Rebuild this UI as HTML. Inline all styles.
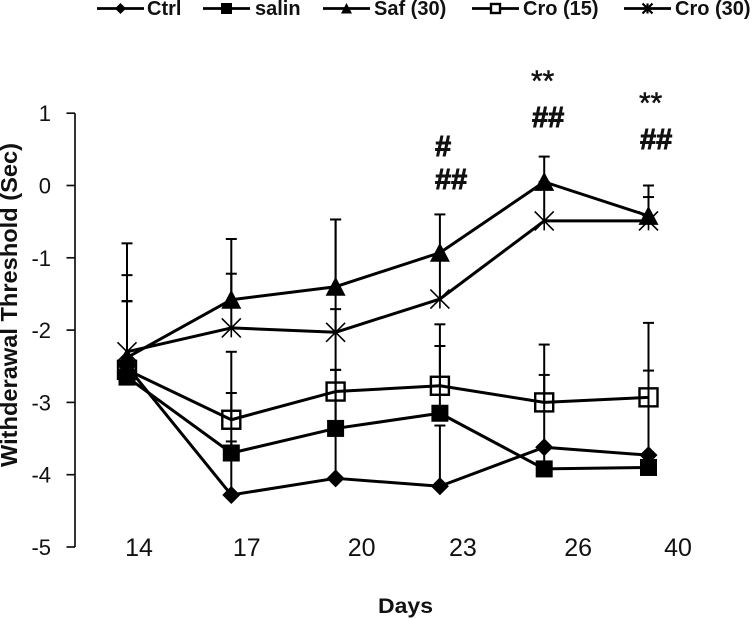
<!DOCTYPE html>
<html>
<head>
<meta charset="utf-8">
<style>
html,body{margin:0;padding:0;background:#fff;width:754px;height:619px;overflow:hidden}
svg{display:block}
text{font-family:"Liberation Sans",sans-serif;fill:#111}
</style>
</head>
<body>
<svg id="chart" width="754" height="619" viewBox="0 0 754 619" xmlns="http://www.w3.org/2000/svg">
  <text transform="translate(17,467) rotate(-90)" font-size="23" font-weight="bold" textLength="324" lengthAdjust="spacingAndGlyphs">Withderawal Threshold (Sec)</text>
  <text x="378" y="613" font-size="21" font-weight="bold" textLength="55" lengthAdjust="spacingAndGlyphs">Days</text>
  <g font-size="30">
    <text x="435" y="156" font-weight="bold" font-size="29" stroke="#111" stroke-width="0.9">#</text>
    <text x="435" y="189" font-weight="bold" font-size="29" stroke="#111" stroke-width="0.9">##</text>
    <text x="531" y="91" stroke="#111" stroke-width="0.5">**</text>
    <text x="532" y="127" font-weight="bold" font-size="29" stroke="#111" stroke-width="0.9">##</text>
    <text x="639" y="113" stroke="#111" stroke-width="0.5">**</text>
    <text x="640" y="149" font-weight="bold" font-size="29" stroke="#111" stroke-width="0.9">##</text>
  </g>
</svg>
<script>
const categories = ['14', '17', '20', '23', '26', '40'];
const yTicks = [1, 0, -1, -2, -3, -4, -5];
const seriesNames = ['Ctrl', 'salin', 'Saf (30)', 'Cro (15)', 'Cro (30)'];

const ctrlValues = [-2.5, -4.28, -4.05, -4.16, -3.62, -3.73];
const salinValues = [-2.65, -3.7, -3.36, -3.15, -3.92, -3.9];
const saf30Values = [-2.38, -1.58, -1.4, -0.93, 0.05, -0.42];
const cro15Values = [-2.55, -3.24, -2.85, -2.77, -3.0, -2.93];
const cro30Values = [-2.3, -1.97, -2.03, -1.57, -0.49, -0.49];

const ctrlErrors = [0.9, 0.74, 1.5, 0.84, 1.0, 1.17];
const salinErrors = [1.05, 0.83, 0.81, 0.93, 0.3, 0.17];
const saf30Errors = [1.58, 0.84, 0.93, 0.53, 0.35, 0.42];
const cro15Errors = [0.95, 0.94, 1.14, 0.85, 0.8, 1.03];
const cro30Errors = [1.06, 0.75, 1.56, 0.62, 0.54, 0.33];

const NS = 'http://www.w3.org/2000/svg';
const svg = document.getElementById('chart');

function xScale(i) { return 127 + i * 104.3; }
function yScale(v) { return 185.5 - v * 72.3; }
/* layout only: the reference prints its day labels off-centre from the points */
const tickLabelShift = [12, 15.5, 26, 23, 34, 29.5];

function mk(tag, attrs, parent) {
  const el = document.createElementNS(NS, tag);
  for (const k in attrs) el.setAttribute(k, attrs[k]);
  (parent || svg).appendChild(el);
  return el;
}

function drawMarker(kind, cx, cy, s, parent, legend) {
  const g = mk('g', {}, parent);
  if (kind === 'diamond') {
    mk('polygon', { points: `${cx},${cy - s} ${cx + s},${cy} ${cx},${cy + s} ${cx - s},${cy}`, fill: '#000' }, g);
  } else if (kind === 'square') {
    mk('rect', { x: cx - s, y: cy - s, width: 2 * s, height: 2 * s, fill: '#000' }, g);
  } else if (kind === 'triangle') {
    mk('polygon', { points: `${cx},${cy - s} ${cx + s},${cy + s * 0.9} ${cx - s},${cy + s * 0.9}`, fill: '#000' }, g);
  } else if (kind === 'open-square') {
    mk('rect', { x: cx - s + 1, y: cy - s + 1, width: 2 * s - 2, height: 2 * s - 2, fill: 'none', stroke: '#000', 'stroke-width': 2.4 }, g);
  } else {
    const w = legend ? 2.2 : 1.6;
    mk('path', { d: `M${cx - s},${cy - s}L${cx + s},${cy + s}M${cx - s},${cy + s}L${cx + s},${cy - s}M${cx},${cy - s}L${cx},${cy + s}`, stroke: '#000', 'stroke-width': w, fill: 'none' }, g);
  }
  return g;
}

const axisGroup = mk('g', { stroke: '#111', 'stroke-width': 1.7 });


mk('line', { x1: 75, x2: 75, y1: yScale(1), y2: yScale(-5) }, axisGroup);
yTicks.forEach(function (t) {
  const tick = mk('line', { x1: 66.5, x2: 75, y1: yScale(t), y2: yScale(t) }, axisGroup);
  
  
  const label = mk('text', { x: 51, y: yScale(t) + 8, 'text-anchor': 'end', 'font-size': 22 });
  label.textContent = String(t);
  
  
});

categories.forEach(function (c, i) {
  const label = mk('text', { x: xScale(i) + tickLabelShift[i], y: 556, 'text-anchor': 'middle', 'font-size': 25 });
  label.textContent = c;
  
  
});

const series = [
  { key: 'ctrl', values: ctrlValues, errors: ctrlErrors, kind: 'diamond', size: 9 },
  { key: 'salin', values: salinValues, errors: salinErrors, kind: 'square', size: 8.5 },
  { key: 'saf-30', values: saf30Values, errors: saf30Errors, kind: 'triangle', size: 10 },
  { key: 'cro-15', values: cro15Values, errors: cro15Errors, kind: 'open-square', size: 10 },
  { key: 'cro-30', values: cro30Values, errors: cro30Errors, kind: 'star', size: 9.5 }
];

series.forEach(function (s) {
  const errGroup = mk('g', { stroke: '#000', 'stroke-width': 2 });
  
  
  s.values.forEach(function (v, i) {
    const x = xScale(i);
    const top = yScale(v + s.errors[i]);
    mk('line', { x1: x, x2: x, y1: yScale(v), y2: top }, errGroup);
    mk('line', { x1: x - 5.5, x2: x + 5.5, y1: top, y2: top }, errGroup);
  });
});

series.forEach(function (s) {
  const pts = s.values.map(function (v, i) { return xScale(i) + ',' + yScale(v); }).join(' ');
  const line = mk('polyline', { points: pts, fill: 'none', stroke: '#000', 'stroke-width': 3, 'stroke-linejoin': 'round' });
  
  
});

series.forEach(function (s) {
  s.values.forEach(function (v, i) {
    const m = drawMarker(s.kind, xScale(i), yScale(v), s.size);
    
    
  });
});

const legendLineStarts = [97, 203, 323, 472, 624];
const legendTextStarts = [147, 255, 374, 523, 675];
const legendGroup = mk('g', {});


series.forEach(function (s, i) {
  const entry = mk('g', {}, legendGroup);
  
  
  const x0 = legendLineStarts[i];
  mk('line', { x1: x0, x2: x0 + 47, y1: 8.5, y2: 8.5, stroke: '#000', 'stroke-width': 2.8 }, entry);
  drawMarker(s.kind, x0 + 23.5, 8.5, s.kind === 'star' ? 5 : 5.5, entry, true);
  if (s.kind === 'open-square') {
    entry.lastChild.firstChild.setAttribute('fill', '#fff');
  }
  const label = mk('text', { x: legendTextStarts[i], y: 15, 'font-size': 20, 'font-weight': 'bold' }, entry);
  label.textContent = seriesNames[i];
});
</script>
</body>
</html>
